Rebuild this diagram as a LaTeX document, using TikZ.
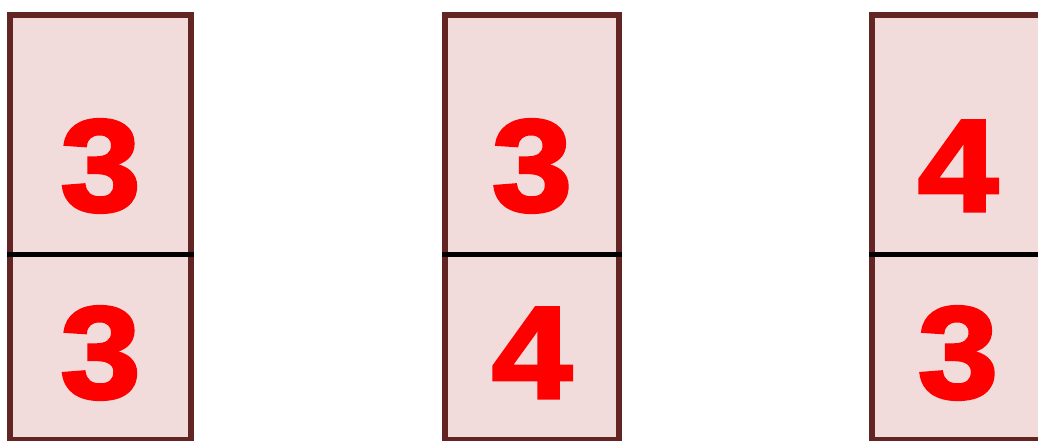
\documentclass[tikz,border=0pt]{standalone}
\usepackage{fontspec}
\newfontfamily\digitfont{Liberation Sans Bold}[FakeBold=2.5]
\definecolor{domFill}{RGB}{242,220,219}
\definecolor{domEdge}{RGB}{99,37,35}
\definecolor{domRed}{RGB}{255,0,0}

\begin{document}
\begin{tikzpicture}[x=1pt,y=1pt,
  domcell/.style={fill=domFill,draw=domEdge,line width=6pt},
  domsplit/.style={draw=black,line width=5pt},
  pip/.style={anchor=base,inner sep=0pt,text=domRed,
    font=\digitfont\fontsize{131}{131}\selectfont}]
% pixel rows: top 15.5, split 255, bottom 440; baselines 211 and 398
\useasboundingbox (0,0) rectangle (1038,441);
\clip (0,0) rectangle (1038,441);
\foreach \l/\r/\up/\dn/\name in {10/191/3/3/a,445/619/3/4/b,872/1044/4/3/c}{
  \draw[domcell] (\l,1) rectangle (\r,425.5);
  \draw[domsplit] (\l-3,186) -- (\r+3,186);
  \node[pip] (\name top) at ({(\l+\r)/2},230) {\scalebox{1.1}[1]{\up}};
  \node[pip] (\name bot) at ({(\l+\r)/2},43) {\scalebox{1.1}[1]{\dn}};
}
\end{tikzpicture}
\end{document}
